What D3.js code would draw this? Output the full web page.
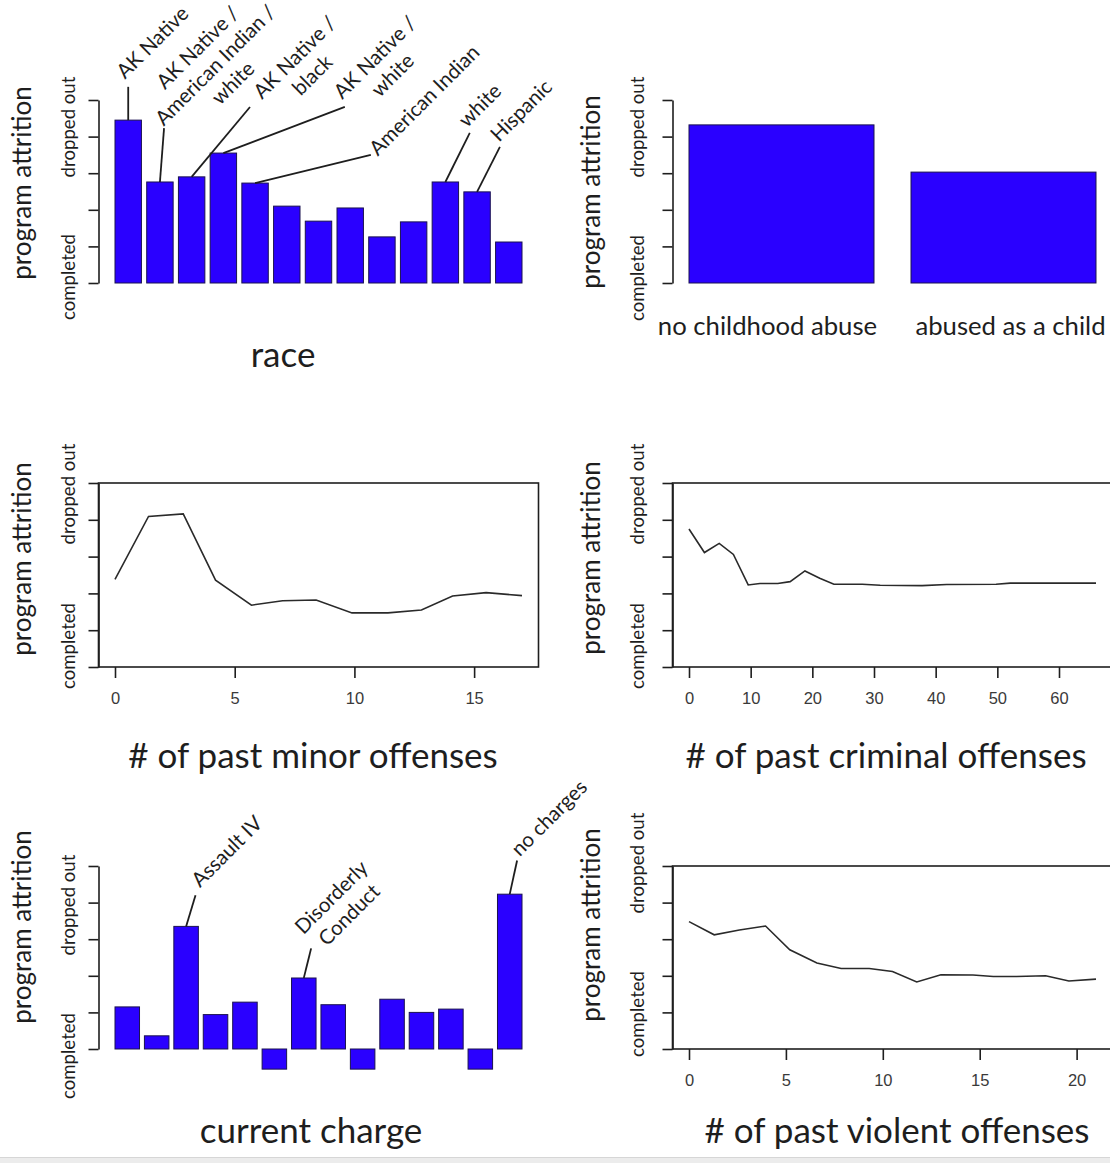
<!DOCTYPE html>
<html>
<head>
<meta charset="utf-8">
<script src="https://cdn.jsdelivr.net/npm/d3@7"></script>
<style>
  body { margin: 0; background: #fff; }
  svg { display: block; }
</style>
</head>
<body>
<script>
// ---- data (values on a 0..5 attrition scale) ----
var yTicks = [0, 1, 2, 3, 4, 5];

var raceValues = [4.45, 2.76, 2.90, 3.55, 2.73, 2.10, 1.69, 2.05, 1.26, 1.67, 2.76, 2.49, 1.12];
// tip = end of the leader line, at = start of the label (bar-index units, value units)
var raceNotes = [
  {bar: 0, text: ["AK Native"], tip: [0, 5.36], at: [-0.1, 5.55]},
  {bar: 1, text: ["AK Native /", "American Indian /", "white"], tip: [1.13, 4.23], at: [0.56, 4.75]},
  {bar: 2, text: ["AK Native /", "black"], tip: [3.84, 4.81], at: [4.22, 5.0]},
  {bar: 3, text: ["AK Native /", "white"], tip: [6.83, 4.81], at: [6.75, 5.0]},
  {bar: 4, text: ["American Indian"], tip: [7.65, 3.50], at: [7.87, 3.45]},
  {bar: 10, text: ["white"], tip: [10.77, 4.10], at: [10.68, 4.23]},
  {bar: 11, text: ["Hispanic"], tip: [11.72, 3.72], at: [11.69, 3.83]}
];

var abuseCats = ["no childhood abuse", "abused as a child"];
var abuseValues = [4.32, 3.03];

var minorX = [0, 1.4, 2.85, 4.2, 5.7, 7.0, 8.4, 9.9, 11.4, 12.8, 14.1, 15.5, 17];
var minorY = [2.38, 4.09, 4.16, 2.36, 1.68, 1.80, 1.82, 1.47, 1.47, 1.55, 1.93, 2.02, 1.94];
var minorTicks = [0, 5, 10, 15];

var criminalX = [0, 2.5, 4.9, 7.2, 9.6, 11.5, 14.4, 16.4, 18.8, 21.2, 23.5, 28.1, 31.0, 37.8, 41.8, 49.8, 52.1, 66];
var criminalY = [3.75, 3.11, 3.36, 3.06, 2.23, 2.27, 2.27, 2.32, 2.61, 2.41, 2.25, 2.25, 2.22, 2.21, 2.24, 2.25, 2.28, 2.28];
var criminalTicks = [0, 10, 20, 30, 40, 50, 60];

var chargeValues = [1.15, 0.36, 3.35, 0.94, 1.28, -0.55, 1.94, 1.21, -0.55, 1.36, 1.00, 1.09, -0.55, 4.23];
var chargeNotes = [
  {bar: 2, text: ["Assault IV"], tip: [2.32, 4.2], at: [2.47, 4.39]},
  {bar: 6, text: ["Disorderly", "Conduct"], tip: [6.25, 2.75], at: [5.99, 3.11]},
  {bar: 13, text: ["no charges"], tip: [13.25, 5.15], at: [13.34, 5.24]}
];

var violentX = [0, 1.3, 2.6, 3.95, 5.2, 6.6, 7.85, 9.3, 10.5, 11.75, 13.0, 14.65, 15.7, 16.9, 18.4, 19.6, 21];
var violentY = [3.48, 3.12, 3.25, 3.36, 2.71, 2.35, 2.20, 2.20, 2.12, 1.83, 2.03, 2.02, 1.98, 1.98, 2.00, 1.86, 1.91];
var violentTicks = [0, 5, 10, 15, 20];

// ---- layout ----
var colRange = [[115, 522], [689, 1096]];
var rowRange = [[100, 283], [483, 667], [866, 1049]];
var pad = 16.5;
var gill = "Lato, 'Open Sans', sans-serif";
var ink = "#1e1e1e";

var svg = d3.select("body").append("svg")
    .attr("width", 1110)
    .attr("height", 1163);

// slide edge at the bottom
svg.append("rect").attr("x", 0).attr("y", 1157).attr("width", 1110).attr("height", 6).attr("fill", "#ececec");
svg.append("line").attr("x1", 0).attr("x2", 1110).attr("y1", 1157.5).attr("y2", 1157.5).attr("stroke", "#d6d6d6");

function yScale(row) {
  return d3.scaleLinear().domain([0, 5]).range([rowRange[row][1], rowRange[row][0]]);
}

function yAxis(y, col) {
  svg.append("g")
    .attr("transform", "translate(" + (colRange[col][0] - pad) + ",0)")
    .call(d3.axisLeft(y).tickValues(yTicks).tickSize(10).tickSizeOuter(0).tickFormat(""))
    .call(function(g) { g.selectAll("path, line").attr("stroke", ink).attr("stroke-width", 1.6); });
}

// y-axis titles: "program attrition" plus the two end labels
function sideLabels(col, pos) {
  var xs = col === 0 ? [23, 69] : [592, 638];
  svg.append("text")
    .attr("transform", "translate(" + xs[0] + "," + pos[0] + ") rotate(-90)")
    .attr("text-anchor", "middle").attr("dy", "0.32em")
    .style("font-family", gill).style("font-size", "26px").attr("fill", ink)
    .text("program attrition");
  svg.append("text")
    .attr("transform", "translate(" + xs[1] + "," + pos[1] + ") rotate(-90)")
    .attr("text-anchor", "middle").attr("dy", "0.32em")
    .style("font-family", gill).style("font-size", "18.6px").attr("fill", ink)
    .text("dropped out");
  svg.append("text")
    .attr("transform", "translate(" + xs[1] + "," + pos[2] + ") rotate(-90)")
    .attr("text-anchor", "middle").attr("dy", "0.32em")
    .style("font-family", gill).style("font-size", "18.6px").attr("fill", ink)
    .text("completed");
}

function xTitle(label, cx, base) {
  svg.append("text")
    .attr("x", cx).attr("y", base)
    .attr("text-anchor", "middle")
    .style("font-family", gill).style("font-size", "35px").attr("fill", ink)
    .text(label);
}

function barPanel(col, row, values) {
  var x = d3.scaleBand().domain(d3.range(values.length)).range(colRange[col]).paddingInner(1 / 6);
  var y = yScale(row);
  svg.append("g").selectAll("rect")
    .data(values)
    .join("rect")
      .attr("x", function(d, i) { return x(i); })
      .attr("width", x.bandwidth())
      .attr("y", function(d) { return y(Math.max(0, d)); })
      .attr("height", function(d) { return Math.abs(y(d) - y(0)); })
      .attr("fill", "#2a00ff")
      .attr("stroke", "#1b1250")
      .attr("stroke-width", 1);
  yAxis(y, col);
  return {x: x, y: y};
}

// leader line from a bar top to a rotated (possibly multi-line, centred) label
function annotate(p, values, notes) {
  var cx = function(i) { return p.x(0) + p.x.bandwidth() / 2 + i * p.x.step(); };
  notes.forEach(function(n) {
    svg.append("line")
      .attr("x1", cx(n.bar)).attr("y1", p.y(values[n.bar]))
      .attr("x2", cx(n.tip[0])).attr("y2", p.y(n.tip[1]))
      .attr("stroke", ink).attr("stroke-width", 1.8);
    var g = svg.append("g")
      .attr("transform", "translate(" + cx(n.at[0]) + "," + p.y(n.at[1]) + ") rotate(-45)");
    var texts = n.text.map(function(t, i) {
      return g.append("text")
        .attr("y", i * 25)
        .style("font-family", gill).style("font-size", "20.5px").attr("fill", ink)
        .text(t);
    });
    var widths = texts.map(function(t) { return t.node().getComputedTextLength(); });
    var maxW = d3.max(widths);
    texts.forEach(function(t, i) { t.attr("x", (maxW - widths[i]) / 2); });
  });
}

function linePanel(col, row, xs, ys, ticks, xmax) {
  var x = d3.scaleLinear().domain([0, xmax]).range(colRange[col]);
  var y = yScale(row);
  var r = rowRange[row];
  svg.append("rect")
    .attr("x", colRange[col][0] - pad).attr("y", r[0])
    .attr("width", colRange[col][1] - colRange[col][0] + 2 * pad).attr("height", r[1] - r[0])
    .attr("fill", "none").attr("stroke", ink).attr("stroke-width", 1.6);
  yAxis(y, col);
  svg.append("g")
    .attr("transform", "translate(0," + r[1] + ")")
    .call(d3.axisBottom(x).tickValues(ticks).tickSize(11).tickPadding(14))
    .call(function(g) {
      g.select(".domain").remove();
      g.selectAll("line").attr("stroke", ink).attr("stroke-width", 1.6);
      g.selectAll("text").style("font-family", "'Liberation Sans', Arial, sans-serif")
        .style("font-size", "16.5px").attr("fill", "#3a3a3a");
    });
  svg.append("path")
    .datum(d3.range(xs.length))
    .attr("fill", "none")
    .attr("stroke", "#2a2a2a")
    .attr("stroke-width", 1.6)
    .attr("d", d3.line().x(function(i) { return x(xs[i]); }).y(function(i) { return y(ys[i]); }));
}

// ---- race ----
var race = barPanel(0, 0, raceValues);
annotate(race, raceValues, raceNotes);
sideLabels(0, [183, 127, 277]);
xTitle("race", 283, 367);

// ---- childhood abuse ----
var abuse = barPanel(1, 0, abuseValues);
sideLabels(1, [192, 127, 278]);
var catShift = [-14, 7];
svg.append("g").selectAll("text")
  .data(abuseCats)
  .join("text")
    .attr("x", function(d, i) { return abuse.x(i) + abuse.x.bandwidth() / 2 + catShift[i]; })
    .attr("y", 335)
    .attr("text-anchor", "middle")
    .style("font-family", gill).style("font-size", "25.7px").attr("fill", ink)
    .text(function(d) { return d; });

// ---- minor / criminal offenses ----
linePanel(0, 1, minorX, minorY, minorTicks, 17);
sideLabels(0, [559, 494, 646]);
xTitle("# of past minor offenses", 313, 768);

linePanel(1, 1, criminalX, criminalY, criminalTicks, 66);
sideLabels(1, [558, 494, 646]);
xTitle("# of past criminal offenses", 886, 768);

// ---- current charge ----
var charge = barPanel(0, 2, chargeValues);
annotate(charge, chargeValues, chargeNotes);
sideLabels(0, [927, 905, 1056]);
xTitle("current charge", 311, 1143);

// ---- violent offenses ----
linePanel(1, 2, violentX, violentY, violentTicks, 21);
sideLabels(1, [925, 863, 1014]);
xTitle("# of past violent offenses", 897, 1143);
</script>
</body>
</html>
